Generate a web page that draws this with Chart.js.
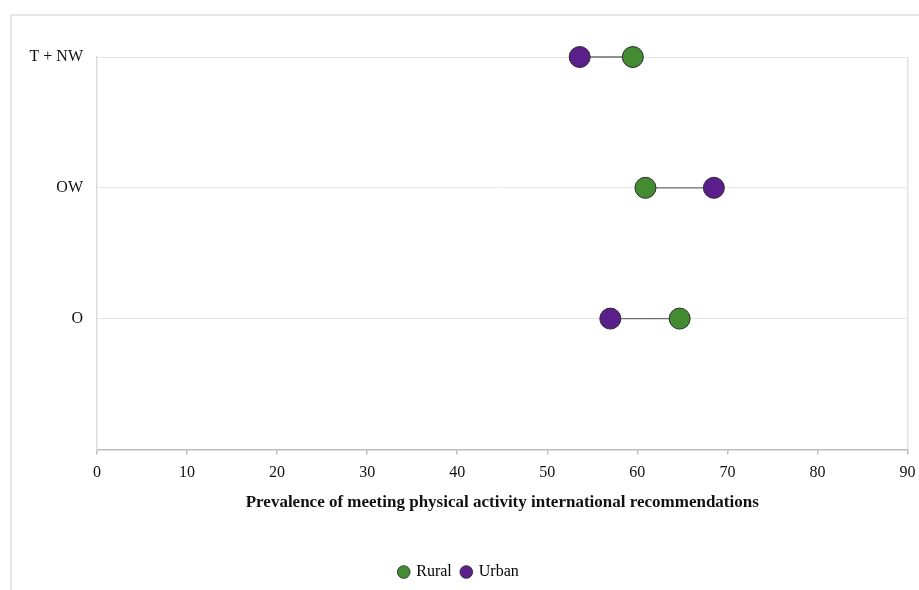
<!DOCTYPE html>
<html>
<head>
<meta charset="utf-8">
<script src="https://cdn.jsdelivr.net/npm/chart.js@4/dist/chart.umd.min.js"></script>
<style>
  html, body { margin: 0; padding: 0; background: #fff; }
  #frame { position: absolute; left: 10px; top: 14px; width: 1000px; height: 700px; border-left: 2px solid #e6e6e6; border-top: 2px solid #e6e6e6; box-sizing: border-box; }
  #wrap { position: absolute; left: 10px; top: 14px; width: 909px; height: 576px; }
</style>
</head>
<body>
<div id="frame"></div>
<div id="wrap"><canvas id="c"></canvas></div>
<script>
const categories = ["T + NW", "OW", "O"];
const categoryPos = [3, 2, 1];
const rural = [59.5, 60.9, 64.7];
const urban = [53.6, 68.5, 57.0];
const xTicks = [0, 10, 20, 30, 40, 50, 60, 70, 80, 90];

const GREEN = '#438c32';
const PURPLE = '#5b1f8c';
const FONT = "'Liberation Serif', 'Times New Roman', serif";

const connectors = categories.map((c, i) => ({
  label: 'conn-' + c,
  data: [{x: rural[i], y: categoryPos[i]}, {x: urban[i], y: categoryPos[i]}],
  showLine: true,
  borderColor: '#6e6e6e',
  borderWidth: 1.3,
  pointRadius: 0,
  pointHoverRadius: 0,
  order: 3
}));

const datasets = [
  ...connectors,
  {
    label: 'Rural',
    data: rural.map((v, i) => ({x: v, y: categoryPos[i]})),
    backgroundColor: GREEN,
    borderColor: '#2a2a2a',
    borderWidth: 1,
    pointRadius: 10.5,
    pointHoverRadius: 10.5,
    order: 1
  },
  {
    label: 'Urban',
    data: urban.map((v, i) => ({x: v, y: categoryPos[i]})),
    backgroundColor: PURPLE,
    borderColor: '#2a2a2a',
    borderWidth: 1,
    pointRadius: 10.5,
    pointHoverRadius: 10.5,
    order: 1
  }
];

new Chart(document.getElementById('c'), {
  type: 'scatter',
  data: { datasets },
  options: {
    responsive: true,
    maintainAspectRatio: false,
    animation: false,
    clip: false,
    layout: { padding: { top: 43, right: 11, bottom: 0, left: 0 } },
    plugins: {
      tooltip: { enabled: false },
      legend: {
        position: 'bottom',
        labels: {
          usePointStyle: true,
          pointStyle: 'circle',
          boxWidth: 9,
          boxHeight: 9,
          padding: 10,
          color: '#111',
          font: { family: FONT, size: 16 },
          generateLabels: chart => {
            return chart.data.datasets.map((ds, i) => ({
              text: ds.label,
              fillStyle: ds.backgroundColor,
              strokeStyle: '#2a2a2a',
              lineWidth: 0.8,
              pointStyle: 'circle',
              datasetIndex: i,
              hidden: false
            })).filter(it => it.text === 'Rural' || it.text === 'Urban');
          }
        }
      }
    },
    scales: {
      x: {
        type: 'linear',
        min: 0,
        max: 90,
        afterBuildTicks: s => { s.ticks = xTicks.map(v => ({ value: v })); },
        afterFit: s => { s.paddingRight = 0; },
        ticks: { color: '#111', font: { family: FONT, size: 16 }, padding: 9, maxRotation: 0 },
        grid: {
          color: ctx => (ctx.tick && ctx.tick.value === 90) ? '#e3e3e3' : 'rgba(0,0,0,0)',
          tickColor: '#bdbdbd',
          tickLength: 5,
          lineWidth: 1.5
        },
        border: { color: '#bdbdbd', width: 1.5 },
        title: {
          display: true,
          text: 'Prevalence of meeting physical activity international recommendations',
          color: '#111',
          font: { family: FONT, size: 17, weight: 'bold' },
          padding: { top: 1, bottom: 41 }
        }
      },
      y: {
        type: 'linear',
        min: 0,
        max: 3,
        afterBuildTicks: s => { s.ticks = [0].concat(categoryPos.slice().reverse()).map(v => ({ value: v })); },
        afterFit: s => { s.width = 87; },
        ticks: {
          color: '#111',
          font: { family: FONT, size: 16 },
          padding: 14,
          callback: v => { const i = categoryPos.indexOf(v); return i >= 0 ? categories[i] : ''; }
        },
        grid: { color: '#e6e6e6', drawTicks: false, lineWidth: 1 },
        border: { color: '#dcdcdc', width: 1.5 }
      }
    }
  }
});
</script>
</body>
</html>
